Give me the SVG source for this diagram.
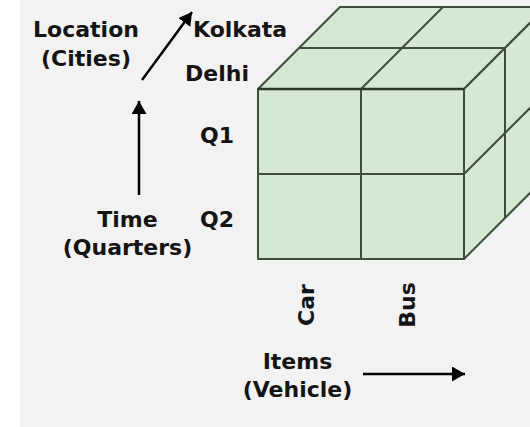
<svg xmlns="http://www.w3.org/2000/svg" width="530" height="427" viewBox="0 0 530 427">
  <style>
    .lbl { font-family: "DejaVu Sans", "Noto Sans", sans-serif; font-weight: bold; font-size: 22px; fill: #141414; }
    .face { fill: #d5e8d4; stroke: #3d4f3b; stroke-width: 2; stroke-linejoin: round; }
    .grid { stroke: #3d4f3b; stroke-width: 2; fill: none; }
    .axis { stroke: #000; stroke-width: 2.5; fill: none; }
  </style>
  <defs>
    <marker id="head" viewBox="0 0 10 10" refX="10" refY="5" markerWidth="5.2" markerHeight="6" orient="auto" markerUnits="strokeWidth" preserveAspectRatio="none">
      <path d="M0,0 L10,5 L0,10 Z" fill="#000"/>
    </marker>
  </defs>

  <!-- panel -->
  <rect x="0" y="0" width="530" height="427" fill="#ffffff"/>
  <rect x="20" y="0" width="510" height="427" fill="#f2f2f2"/>

  <!-- data cube: 2 x 2 x 2 -->
  <g id="cube">
    <polygon class="face" points="258,89 340,7 546,7 464,89"/>
    <polygon class="face" points="464,89 546,7 546,177 464,259"/>
    <rect class="face" x="258" y="89" width="206" height="170"/>
    <!-- top face divisions -->
    <line class="grid" x1="299" y1="48" x2="505" y2="48"/>
    <line class="grid" x1="361" y1="89" x2="443" y2="7"/>
    <!-- right face divisions -->
    <line class="grid" x1="505" y1="48" x2="505" y2="218"/>
    <line class="grid" x1="464" y1="174" x2="546" y2="92"/>
    <!-- front face divisions -->
    <line class="grid" x1="361" y1="89" x2="361" y2="259"/>
    <line class="grid" x1="258" y1="174" x2="464" y2="174"/>
    <line x1="258" y1="89" x2="464" y2="89" stroke="#2b382a" stroke-width="2.5"/>
  </g>

  <!-- axis arrows -->
  <g id="connectors">
    <line class="axis" x1="142" y1="80" x2="192" y2="12" marker-end="url(#head)"/>
    <line class="axis" x1="139" y1="195" x2="139" y2="101" marker-end="url(#head)"/>
    <line class="axis" x1="363" y1="374" x2="465" y2="374" marker-end="url(#head)"/>
  </g>

  <g id="location-label">
    <text class="lbl" x="86" y="37" text-anchor="middle">Location</text>
    <text class="lbl" x="86" y="66" text-anchor="middle">(Cities)</text>
  </g>
  <g id="location-values">
    <text class="lbl" x="193" y="37">Kolkata</text>
    <text class="lbl" x="185" y="81">Delhi</text>
  </g>
  <g id="time-label">
    <text class="lbl" x="127.5" y="227" text-anchor="middle">Time</text>
    <text class="lbl" x="127.5" y="255" text-anchor="middle">(Quarters)</text>
  </g>
  <g id="time-values">
    <text class="lbl" x="200" y="143">Q1</text>
    <text class="lbl" x="200" y="227">Q2</text>
  </g>
  <g id="item-values">
    <text class="lbl" transform="translate(314,305) rotate(-90)" text-anchor="middle">Car</text>
    <text class="lbl" transform="translate(415,305) rotate(-90)" text-anchor="middle">Bus</text>
  </g>
  <g id="item-label">
    <text class="lbl" x="297.5" y="369" text-anchor="middle">Items</text>
    <text class="lbl" x="297.5" y="397" text-anchor="middle">(Vehicle)</text>
  </g>
</svg>
